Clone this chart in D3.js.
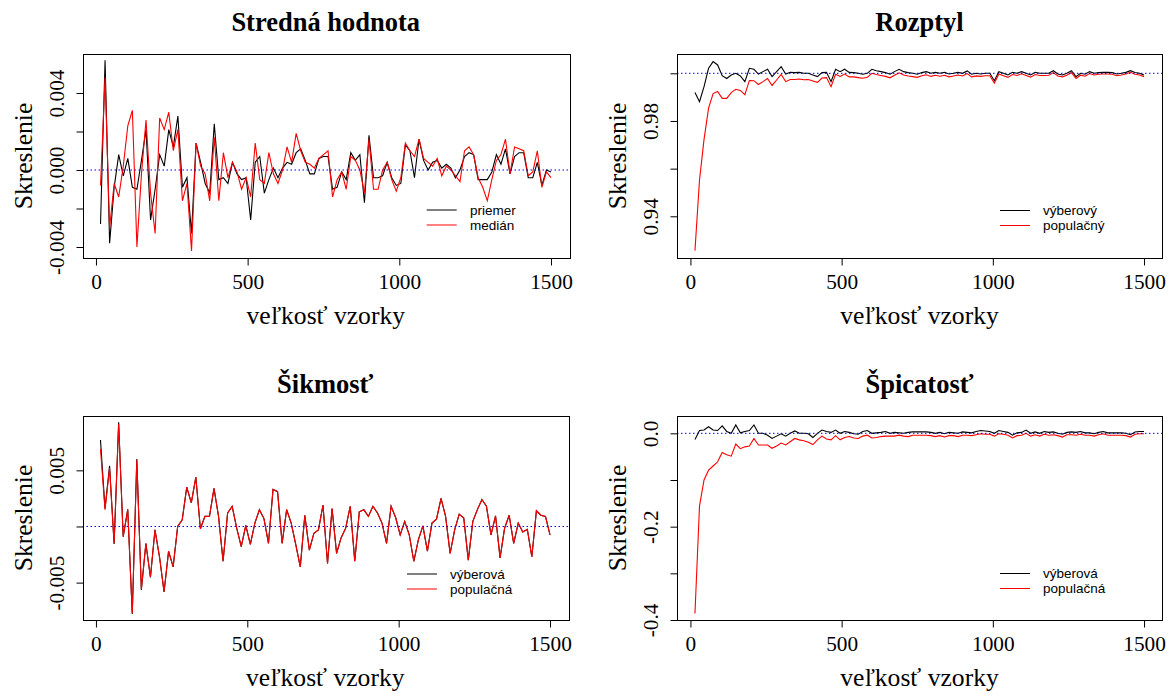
<!DOCTYPE html>
<html><head><meta charset="utf-8">
<script src="https://cdn.jsdelivr.net/npm/d3@7"></script>
<style>body{margin:0;background:#fff} svg{display:block}</style>
</head><body>
<svg id="c" width="1174" height="697"></svg>
<script>
const sizes = [15,30,45,60,75,90,105,120,135,150,165,180,195,210,225,240,255,270,285,300,
315,330,345,360,375,390,405,420,435,450,465,480,495,510,525,540,555,570,585,600,
615,630,645,660,675,690,705,720,735,750,765,780,795,810,825,840,855,870,885,900,
915,930,945,960,975,990,1005,1020,1035,1050,1065,1080,1095,1110,1125,1140,1155,1170,1185,1200,
1215,1230,1245,1260,1275,1290,1305,1320,1335,1350,1365,1380,1395,1410,1425,1440,1455,1470,1485,1500];

// Stredná hodnota
const meanPriemer = [-0.0028,0.0057,-0.0038,-0.0009,0.0008,-0.0003,0.0006,-0.0009,-0.0010,0.0005,
0.0021,-0.0026,-0.0010,0.0008,0.0002,0.0021,0.0012,0.0028,-0.0009,-0.0004,
-0.0033,0.0014,0.0004,-0.0007,-0.0012,0.0024,-0.0005,-0.0004,-0.0007,0.0004,
-0.0002,-0.0005,-0.0004,-0.0026,0.0004,0.0007,-0.0012,-0.0005,0.0001,-0.0004,
0.0001,0.0004,0.0003,0.0009,0.0011,0.0005,-0.0002,-0.0002,0.0006,0.0007,
0.0007,-0.0010,-0.0009,-0.0001,-0.0005,0.0009,0.0005,0.0008,-0.0017,0.0018,
-0.0004,-0.0004,-0.0003,0.0004,-0.0004,-0.0008,-0.0007,0.0013,0.0010,-0.0004,
0.0016,0.0005,0.0000,0.0004,0.0005,0.0001,0.0003,0.0001,-0.0004,0.0000,
0.0007,0.0009,0.0008,-0.0005,-0.0005,-0.0005,-0.0001,0.0008,0.0003,0.0011,
-0.0002,0.0007,0.0009,0.0009,-0.0004,-0.0004,0.0004,-0.0008,0.0000,-0.0001];
const meanMedian = [-0.0008,0.0048,-0.0030,-0.0007,-0.0014,0.0002,0.0023,0.0031,-0.0040,-0.0002,
0.0026,-0.0012,-0.0033,0.0027,0.0021,0.0030,0.0010,0.0021,-0.0016,-0.0007,
-0.0042,0.0014,0.0002,-0.0002,-0.0016,0.0017,-0.0016,0.0009,-0.0004,0.0004,
-0.0001,-0.0010,-0.0004,-0.0014,0.0014,-0.0005,-0.0007,0.0009,-0.0002,-0.0007,
0.0000,0.0012,0.0004,0.0019,0.0010,0.0004,0.0003,0.0001,0.0006,0.0008,
0.0010,-0.0014,-0.0005,-0.0001,-0.0010,0.0007,0.0005,0.0000,-0.0012,0.0016,
-0.0010,-0.0010,0.0000,0.0004,-0.0005,-0.0011,-0.0004,0.0014,0.0010,0.0007,
0.0016,0.0006,0.0004,0.0002,0.0006,-0.0003,0.0002,0.0000,-0.0003,-0.0006,
0.0010,0.0012,0.0008,-0.0004,-0.0009,-0.0016,-0.0005,0.0005,0.0008,0.0016,
-0.0002,0.0012,0.0011,0.0010,-0.0003,-0.0001,0.0010,-0.0009,-0.0001,-0.0004];

// Rozptyl
const varVyberovy = [0.9919,0.9881,0.9944,1.0021,1.0049,1.0035,0.9990,0.9978,0.9993,1.0000,
0.9989,0.9965,1.0021,1.0017,0.9997,1.0007,1.0017,0.9986,1.0007,1.0028,
0.9997,1.0004,1.0003,1.0004,1.0000,1.0000,0.9993,0.9986,1.0003,1.0004,
0.9965,1.0017,1.0007,1.0017,1.0004,1.0003,1.0000,0.9996,1.0000,1.0017,
1.0011,1.0007,1.0003,0.9996,1.0007,1.0017,1.0007,1.0003,1.0000,0.9996,
1.0003,1.0007,1.0000,1.0004,1.0000,1.0004,0.9997,1.0000,1.0004,1.0000,
1.0010,0.9996,1.0000,0.9997,1.0000,1.0000,0.9969,1.0007,1.0000,0.9993,
1.0004,1.0000,1.0007,1.0000,0.9993,1.0004,1.0000,1.0000,1.0000,1.0011,
0.9997,0.9993,1.0000,1.0011,0.9986,1.0000,0.9996,1.0007,1.0000,1.0003,
1.0004,1.0004,1.0003,0.9997,1.0000,1.0004,1.0011,1.0003,1.0000,0.9993];
const varPopulacny = [0.9256,0.9552,0.9723,0.9854,0.9915,0.9924,0.9895,0.9895,0.9919,0.9933,
0.9928,0.9910,0.9970,0.9969,0.9953,0.9965,0.9978,0.9949,0.9972,0.9995,
0.9965,0.9974,0.9974,0.9976,0.9973,0.9974,0.9968,0.9962,0.9980,0.9982,
0.9944,0.9996,0.9987,0.9997,0.9985,0.9985,0.9982,0.9979,0.9983,1.0000,
0.9995,0.9991,0.9987,0.9981,0.9992,1.0002,0.9993,0.9989,0.9986,0.9983,
0.9990,0.9994,0.9987,0.9992,0.9988,0.9992,0.9985,0.9989,0.9993,0.9989,
0.9999,0.9985,0.9989,0.9987,0.9990,0.9990,0.9959,0.9997,0.9990,0.9983,
0.9995,0.9991,0.9998,0.9991,0.9984,0.9995,0.9991,0.9991,0.9992,1.0003,
0.9989,0.9985,0.9992,1.0003,0.9978,0.9992,0.9988,0.9999,0.9993,0.9996,
0.9997,0.9997,0.9996,0.9990,0.9993,0.9997,1.0004,0.9996,0.9993,0.9986];

// Šikmosť
const skewVyberova = [0.0077,0.0016,0.0054,-0.00155,0.00929,-0.00092,0.00153,-0.0078,0.0060,-0.00566,
-0.00152,-0.00454,-0.00030,-0.00272,-0.00584,-0.0022,-0.0036,0.0000,0.0006,0.0035,
0.0021,0.0044,-0.0002,0.0009,0.0009,0.0034,0.0009,-0.0031,0.0012,0.0018,
-0.00015,-0.0018,0.0001,-0.0016,0.0003,0.0015,0.0007,-0.0015,0.0033,0.0031,
-0.0015,0.0015,0.0003,-0.0016,-0.0036,0.0010,-0.0021,-0.0006,-0.0003,0.0019,
-0.0033,0.0016,-0.0024,-0.0010,-0.00015,0.0018,-0.0031,0.0013,0.0015,0.0009,
0.0018,0.0012,0.0003,-0.0015,0.0018,0.0008,-0.00075,0.00045,-0.00075,-0.0031,
-0.0012,0.00005,-0.0022,0.0003,0.00065,0.0025,0.0009,-0.0024,-0.0003,0.0011,
0.00075,-0.0030,0.00045,0.0015,0.0024,0.0018,-0.00075,0.00095,-0.0028,-0.00015,
0.0010,-0.0015,0.0003,-0.0005,-0.00025,-0.0027,0.0014,0.0010,0.0009,-0.00075];
const skewPopulacna = [0.0069,0.0015,0.0052,-0.0015,0.0091,-0.0009,0.0015,-0.0077,0.0059,-0.0056,
-0.0015,-0.0045,-0.0003,-0.0027,-0.0058,-0.0022,-0.0036,0.0000,0.0006,0.0035,
0.0021,0.0044,-0.0002,0.0009,0.0009,0.0034,0.0009,-0.0031,0.0012,0.0018,
-0.00015,-0.0018,0.0001,-0.0016,0.0003,0.0015,0.0007,-0.0015,0.0033,0.0031,
-0.0015,0.0015,0.0003,-0.0016,-0.0036,0.0010,-0.0021,-0.0006,-0.0003,0.0019,
-0.0033,0.0016,-0.0024,-0.0010,-0.00015,0.0018,-0.0031,0.0013,0.0015,0.0009,
0.0018,0.0012,0.0003,-0.0015,0.0018,0.0008,-0.00075,0.00045,-0.00075,-0.0031,
-0.0012,0.00005,-0.0022,0.0003,0.00065,0.0025,0.0009,-0.0024,-0.0003,0.0011,
0.00075,-0.0030,0.00045,0.0015,0.0024,0.0018,-0.00075,0.00095,-0.0028,-0.00015,
0.0010,-0.0015,0.0003,-0.0005,-0.00025,-0.0027,0.0014,0.0010,0.0009,-0.00075];

// Špicatosť
const kurtVyberova = [-0.013,0.006,0.007,0.014,0.007,0.006,0.016,0.004,0.000,0.018,
0.001,0.004,0.006,0.018,0.000,0.000,-0.004,-0.011,-0.006,-0.001,
-0.006,0.000,0.005,0.000,0.000,-0.001,-0.009,0.000,0.007,0.004,
0.002,0.007,0.000,0.004,0.002,-0.001,-0.002,0.004,0.006,0.000,
0.001,0.002,0.004,0.000,0.002,0.001,0.000,0.002,0.003,0.003,
0.003,0.003,0.002,0.000,0.002,-0.001,0.002,0.001,0.000,0.003,
0.002,0.001,0.004,0.006,0.005,0.004,0.000,0.006,0.004,0.002,
-0.004,0.001,0.002,0.007,0.000,0.003,0.000,0.004,0.002,0.003,
0.000,-0.002,0.002,0.003,0.002,0.004,0.001,0.001,-0.001,0.002,
0.004,0.001,0.001,0.001,0.001,0.000,-0.003,0.003,0.004,0.004];
const kurtPopulacna = [-0.386,-0.156,-0.100,-0.079,-0.070,-0.061,-0.041,-0.046,-0.049,-0.023,
-0.033,-0.029,-0.027,-0.011,-0.025,-0.025,-0.025,-0.032,-0.027,-0.021,
-0.025,-0.018,-0.011,-0.014,-0.016,-0.019,-0.024,-0.014,-0.006,-0.012,
-0.014,-0.005,-0.014,-0.009,-0.007,-0.010,-0.011,-0.006,-0.004,-0.010,
-0.009,-0.007,-0.006,-0.006,-0.006,-0.004,-0.006,-0.007,-0.004,-0.004,
-0.004,-0.004,-0.005,-0.007,-0.005,-0.008,-0.005,-0.005,-0.007,-0.004,
-0.004,-0.005,-0.003,-0.001,-0.002,-0.002,-0.006,-0.001,-0.002,-0.004,
-0.010,-0.005,-0.004,0.000,-0.006,-0.003,-0.006,-0.002,-0.004,-0.003,
-0.005,-0.008,-0.003,-0.003,-0.004,-0.002,-0.004,-0.004,-0.006,-0.003,
-0.001,-0.004,-0.004,-0.004,-0.004,-0.005,-0.008,-0.002,-0.001,-0.001];

const titles = ["Stredná hodnota","Rozptyl","Šikmosť","Špicatosť"];
const xTicks = [0,500,1000,1500];
const xLabel = "veľkosť vzorky";
const yLabel = "Skreslenie";
const legends = [["priemer","medián"],["výberový","populačný"],["výberová","populačná"],["výberová","populačná"]];

const svg = d3.select("#c");
const serif = "'Liberation Serif','Times New Roman',serif";
const sans = "'Liberation Sans',Arial,sans-serif";

const panels = [
  {L:82.5,R:569,T:54,B:258,yd:[-0.004571,0.006026],yt:[-0.004,-0.002,0,0.002,0.004],yl:{"-0.004":"-0.004","0":"0.000","0.004":"0.004"},ref:0,s:[meanPriemer,meanMedian],leg:[426.7,210,470]},
  {L:677,R:1162,T:54,B:258,yd:[0.9225,1.0081],yt:[0.94,0.96,0.98,1.0],yl:{"0.94":"0.94","0.98":"0.98"},ref:1,s:[varVyberovy,varPopulacny],leg:[1000,210.5,1043]},
  {L:82.5,R:568,T:416,B:620,yd:[-0.00833,0.00984],yt:[-0.005,0,0.005],yl:{"-0.005":"-0.005","0.005":"0.005"},ref:0,s:[skewVyberova,skewPopulacna],leg:[407,574,450]},
  {L:677,R:1162,T:416,B:620,yd:[-0.400,0.0371],yt:[-0.4,-0.3,-0.2,-0.1,0],yl:{"-0.4":"-0.4","-0.2":"-0.2","0":"0.0"},ref:0,s:[kurtVyberova,kurtPopulacna],leg:[1000,573.5,1043]}
];

panels.forEach((p,i)=>{
  const g = svg.append("g");
  const x = d3.scaleLinear().domain([-44.4,1559.4]).range([p.L,p.R]);
  const y = d3.scaleLinear().domain(p.yd).range([p.B,p.T]);
  const cx = (p.L+p.R)/2;

  const line = d3.line().x((d,j)=>x(sizes[j])).y(d=>y(d));
  const clip = "clip"+i;
  svg.append("clipPath").attr("id",clip).append("rect").attr("x",p.L).attr("y",p.T).attr("width",p.R-p.L).attr("height",p.B-p.T);
  const pg = g.append("g").attr("clip-path",`url(#${clip})`);
  pg.append("path").datum(p.s[0]).attr("d",line).attr("fill","none").attr("stroke","#000").attr("stroke-width",1.1);
  pg.append("path").datum(p.s[1]).attr("d",line).attr("fill","none").attr("stroke","#FF0000").attr("stroke-width",1.1);
  pg.append("line").attr("x1",p.L).attr("x2",p.R).attr("y1",y(p.ref)).attr("y2",y(p.ref))
    .attr("stroke","#0000FF").attr("stroke-width",1).attr("stroke-dasharray","1.5,2.5");

  g.append("rect").attr("x",Math.round(p.L)+0.5).attr("y",p.T+0.5).attr("width",Math.round(p.R-p.L)).attr("height",p.B-p.T)
    .attr("fill","none").attr("stroke","#000").attr("stroke-width",1);

  const xa = g.append("g").attr("transform",`translate(0,${p.B+0.5})`)
    .call(d3.axisBottom(x).tickValues(xTicks).tickSize(7).tickSizeOuter(0).tickFormat(d3.format("d")));
  xa.select(".domain").remove();
  xa.selectAll("line").attr("stroke","#000");
  xa.selectAll("text").attr("y",30.5).attr("dy",0).attr("font-family",serif).attr("font-size","21.3px").attr("fill","#000");

  const ya = g.append("g").attr("transform",`translate(${Math.round(p.L)+0.5},0)`)
    .call(d3.axisLeft(y).tickValues(p.yt).tickSize(7).tickSizeOuter(0).tickFormat(d=>{const k=String(+d.toFixed(4));return p.yl[k]||"";}));
  ya.select(".domain").remove();
  ya.selectAll("line").attr("stroke","#000");
  ya.selectAll("text").attr("x",0).attr("dy",0).attr("text-anchor","middle")
    .attr("transform","translate(-19.5,0) rotate(-90)")
    .attr("font-family",serif).attr("font-size","21.3px").attr("fill","#000");

  g.append("text").attr("x",cx).attr("y",p.T-23).attr("text-anchor","middle")
    .attr("font-family",serif).attr("font-weight","bold").attr("font-size","26.5px").text(titles[i]);
  g.append("text").attr("x",cx).attr("y",p.B+65.5).attr("text-anchor","middle")
    .attr("font-family",serif).attr("font-size","25.6px").text(xLabel);
  g.append("text").attr("transform",`translate(${p.L-51},${(p.T+p.B)/2}) rotate(-90)`).attr("text-anchor","middle")
    .attr("font-family",serif).attr("font-size","25.6px").text(yLabel);

  const [lx,ly,tx] = p.leg;
  ["#000","#FF0000"].forEach((c,j)=>{
    g.append("line").attr("x1",lx).attr("x2",lx+30).attr("y1",ly+15*j).attr("y2",ly+15*j).attr("stroke",c).attr("stroke-width",1);
    g.append("text").attr("x",tx).attr("y",ly+15*j).attr("dy","0.35em").attr("font-family",sans).attr("font-size","13.5px").text(legends[i][j]);
  });
});
</script>
</body></html>
